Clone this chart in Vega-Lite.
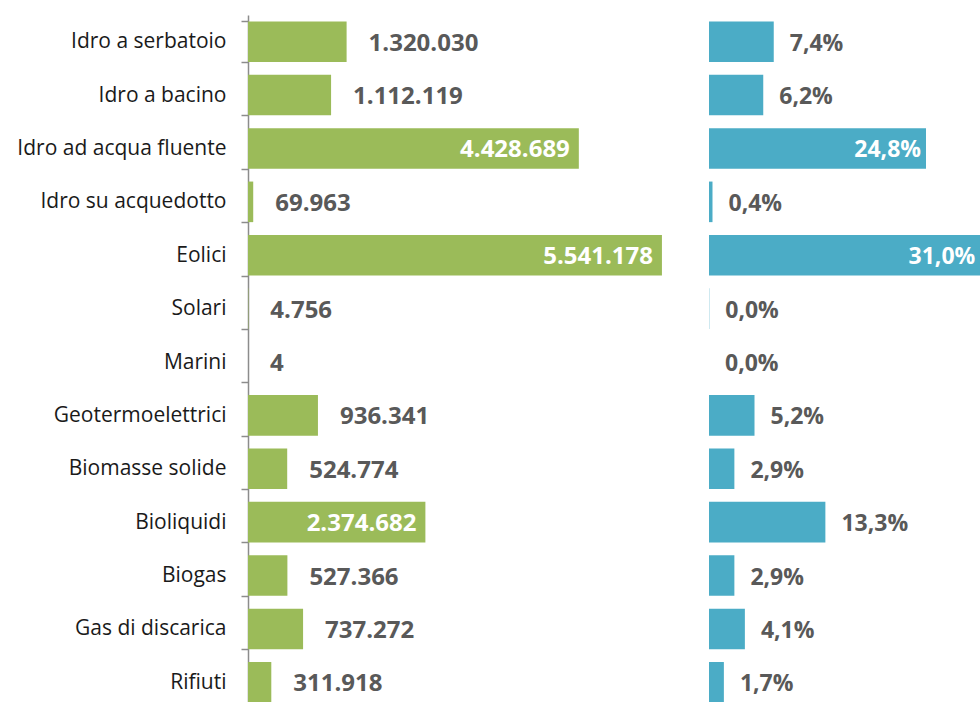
{
  "$schema": "https://vega.github.io/schema/vega-lite/v6.json",
  "autosize": {"type": "none"},
  "padding": {"left": 248, "top": 15, "right": 0, "bottom": 0},
  "width": 732,
  "height": 694,
  "background": "white",
  "config": {
    "view": {"stroke": null},
    "font": "Open Sans",
    "locale": {"number": {"decimal": ",", "thousands": ".", "grouping": [3], "currency": ["€", ""]}}
  },
  "data": {"values": [
    {"fonte": "Idro a serbatoio", "valore": 1320030, "quota": 0.074},
    {"fonte": "Idro a bacino", "valore": 1112119, "quota": 0.062},
    {"fonte": "Idro ad acqua fluente", "valore": 4428689, "quota": 0.248},
    {"fonte": "Idro su acquedotto", "valore": 69963, "quota": 0.004},
    {"fonte": "Eolici", "valore": 5541178, "quota": 0.310},
    {"fonte": "Solari", "valore": 4756, "quota": 0.0003},
    {"fonte": "Marini", "valore": 4, "quota": 0.0},
    {"fonte": "Geotermoelettrici", "valore": 936341, "quota": 0.052},
    {"fonte": "Biomasse solide", "valore": 524774, "quota": 0.029},
    {"fonte": "Bioliquidi", "valore": 2374682, "quota": 0.133},
    {"fonte": "Biogas", "valore": 527366, "quota": 0.029},
    {"fonte": "Gas di discarica", "valore": 737272, "quota": 0.041},
    {"fonte": "Rifiuti", "valore": 311918, "quota": 0.017}
  ]},
  "encoding": {
    "y": {
      "field": "fonte", "type": "nominal", "sort": null,
      "scale": {"paddingInner": 0.24, "paddingOuter": 0.12},
      "axis": {
        "title": null, "domainColor": "#8c8c8c", "domainWidth": 1.5,
        "tickColor": "#8c8c8c", "tickWidth": 1.5, "tickSize": 7, "tickBand": "extent",
        "labelFontSize": 21, "labelColor": "#1a1a1a", "labelPadding": 15, "labelFont": "Open Sans",
        "labelLimit": 400
      }
    }
  },
  "layer": [
    {
      "encoding": {"x": {"field": "valore", "type": "quantitative", "scale": {"domain": [0, 6024000], "range": [0, 450]}, "axis": null}},
      "layer": [
        {"mark": {"type": "bar", "color": "#9BBB59"}},
        {
          "transform": [{"filter": "datum.valore > 2000000"}],
          "mark": {"type": "text", "align": "right", "dx": -9, "dy": 2, "fontSize": 24, "fontWeight": "bold", "color": "white"},
          "encoding": {"text": {"field": "valore", "type": "quantitative", "format": ",d"}}
        },
        {
          "transform": [{"filter": "datum.valore <= 2000000"}],
          "mark": {"type": "text", "align": "left", "dx": 22, "dy": 2, "fontSize": 24, "fontWeight": "bold", "color": "#595959"},
          "encoding": {"text": {"field": "valore", "type": "quantitative", "format": ",d"}}
        }
      ]
    },
    {
      "encoding": {"x": {"field": "quota", "type": "quantitative", "scale": {"domain": [0, 0.32], "range": [461, 741]}, "axis": null}},
      "layer": [
        {"mark": {"type": "bar", "color": "#4BACC6"}},
        {
          "transform": [{"filter": "datum.quota > 0.2"}],
          "mark": {"type": "text", "align": "right", "dx": -5, "dy": 2, "fontSize": 23, "fontWeight": "bold", "color": "white"},
          "encoding": {"text": {"field": "quota", "type": "quantitative", "format": ".1%"}}
        },
        {
          "transform": [{"filter": "datum.quota <= 0.2"}],
          "mark": {"type": "text", "align": "left", "dx": 16, "dy": 2, "fontSize": 23, "fontWeight": "bold", "color": "#595959"},
          "encoding": {"text": {"field": "quota", "type": "quantitative", "format": ".1%"}}
        }
      ]
    }
  ],
  "resolve": {"scale": {"x": "independent"}}
}
